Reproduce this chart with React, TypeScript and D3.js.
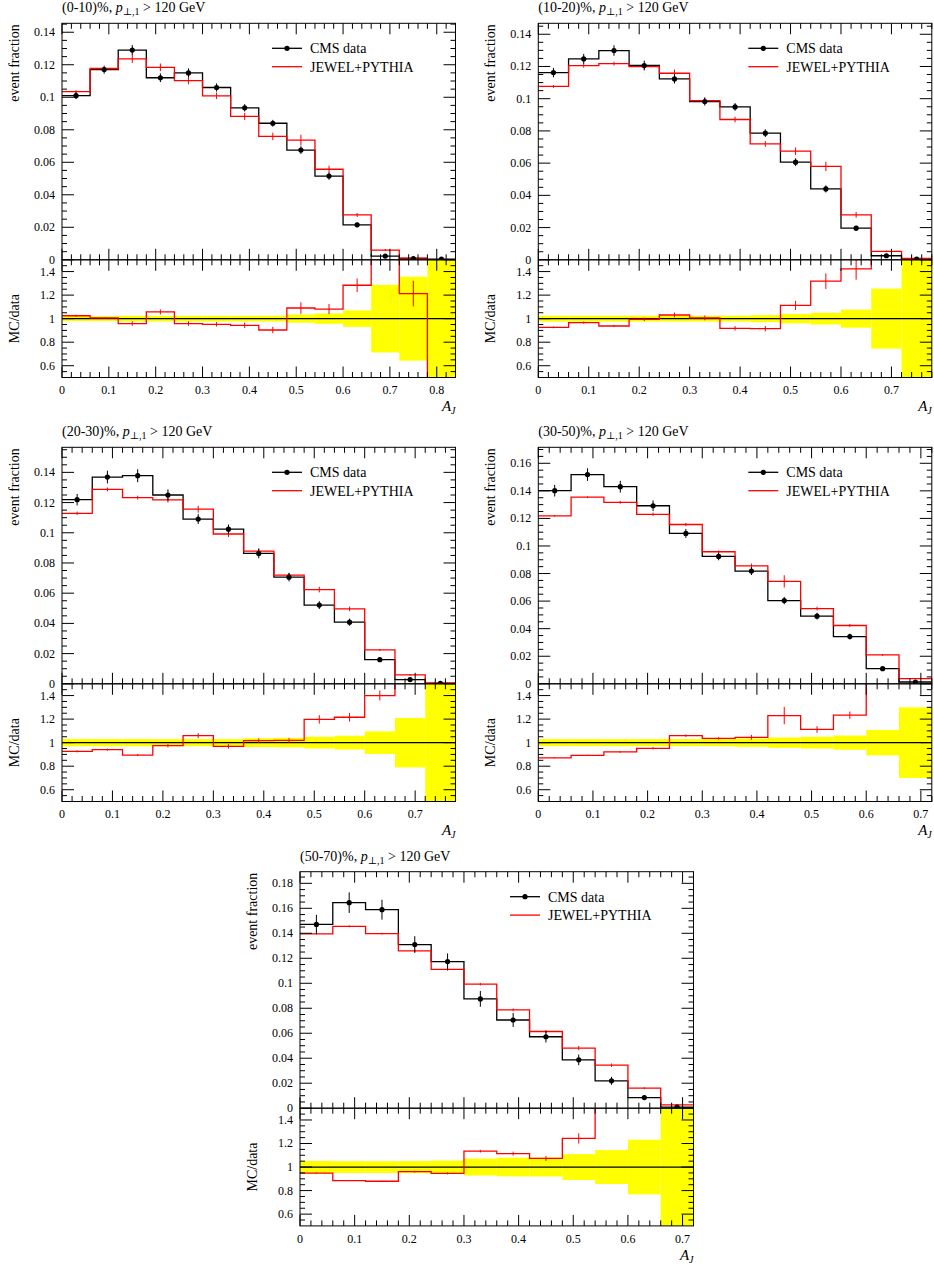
import React from 'react';
import * as d3 from 'd3';

// ---------- data (A_J distributions, bin width 0.06) ----------
const binWidth = 0.06;
const centralities = ['(0-10)%', '(10-20)%', '(20-30)%', '(30-50)%', '(50-70)%'];
const xMaxes = [0.84, 0.78, 0.78, 0.72, 0.72];
const yMaxes = [0.1455, 0.1468, 0.1566, 0.1716, 0.1893];

const cms0010 = [0.101, 0.117, 0.129, 0.112, 0.115, 0.106, 0.0935, 0.084, 0.0675, 0.0515, 0.0215, 0.0023, 0.0008, 0.0004];
const cmsErr0010 = [0.021, 0.021, 0.024, 0.024, 0.024, 0.024, 0.024, 0.025, 0.035, 0.044, 0.07, 0.287, 0.357, 1.0];
const jewel0010 = [0.1035, 0.1177, 0.1236, 0.1184, 0.1102, 0.1009, 0.0882, 0.0759, 0.0736, 0.0557, 0.0276, 0.006, 0.00097, 0];
const jewelErr0010 = [0.008, 0.008, 0.02, 0.02, 0.02, 0.02, 0.025, 0.03, 0.045, 0.04, 0.045, 0.1, 0.09, 0];

const cms1020 = [0.1162, 0.1247, 0.1299, 0.1206, 0.1123, 0.0982, 0.0949, 0.0786, 0.0606, 0.044, 0.0196, 0.0025, 0.0005];
const cmsErr1020 = [0.025, 0.025, 0.025, 0.025, 0.025, 0.025, 0.025, 0.03, 0.04, 0.05, 0.077, 0.255, 1.0];
const jewel1020 = [0.1076, 0.1205, 0.1218, 0.1199, 0.1158, 0.0988, 0.0871, 0.0719, 0.0674, 0.058, 0.0279, 0.0052, 0.0009];
const jewelErr1020 = [0.008, 0.01, 0.01, 0.015, 0.02, 0.02, 0.02, 0.025, 0.035, 0.05, 0.065, 0.1, 0.1];

const cms2030 = [0.1219, 0.1369, 0.1378, 0.125, 0.1091, 0.1024, 0.0863, 0.0706, 0.0521, 0.0408, 0.016, 0.0028, 0.0003];
const cmsErr2030 = [0.031, 0.031, 0.031, 0.03, 0.03, 0.03, 0.037, 0.04, 0.05, 0.058, 0.096, 0.21, 1.0];
const jewel2030 = [0.1129, 0.1287, 0.1233, 0.1218, 0.1156, 0.0992, 0.0878, 0.072, 0.0624, 0.0496, 0.0224, 0.0059, 0.0006];
const jewelErr2030 = [0.01, 0.01, 0.01, 0.015, 0.02, 0.02, 0.02, 0.02, 0.03, 0.03, 0.03, 0.1, 0.1];

const cms3050 = [0.1401, 0.1518, 0.143, 0.1292, 0.1091, 0.0924, 0.0818, 0.0604, 0.0491, 0.0343, 0.011, 0.0013];
const cmsErr3050 = [0.03, 0.03, 0.03, 0.03, 0.03, 0.03, 0.035, 0.044, 0.05, 0.06, 0.108, 0.3];
const jewel3050 = [0.1219, 0.1354, 0.1317, 0.123, 0.1156, 0.0958, 0.0855, 0.0743, 0.0546, 0.0423, 0.021, 0.0038];
const jewelErr3050 = [0.005, 0.005, 0.008, 0.01, 0.01, 0.01, 0.02, 0.06, 0.025, 0.025, 0.03, 0.08];

const cms5070 = [0.1471, 0.1645, 0.1589, 0.131, 0.1174, 0.0875, 0.0706, 0.0572, 0.0387, 0.0219, 0.0085, 0.0008];
const cmsErr5070 = [0.052, 0.05, 0.05, 0.051, 0.055, 0.072, 0.079, 0.08, 0.11, 0.144, 0.232, 1.0];
const jewel5070 = [0.1396, 0.1456, 0.1397, 0.1259, 0.1111, 0.0993, 0.0787, 0.0614, 0.0481, 0.0344, 0.016, 0.0027];
const jewelErr5070 = [0.005, 0.005, 0.005, 0.008, 0.01, 0.01, 0.015, 0.02, 0.035, 0.04, 0.05, 0.1];

const cmsAll = [cms0010, cms1020, cms2030, cms3050, cms5070];
const cmsErrAll = [cmsErr0010, cmsErr1020, cmsErr2030, cmsErr3050, cmsErr5070];
const jewelAll = [jewel0010, jewel1020, jewel2030, jewel3050, jewel5070];
const jewelErrAll = [jewelErr0010, jewelErr1020, jewelErr2030, jewelErr3050, jewelErr5070];

// ---------- layout ----------
const W = 393.5;
const HM = 236.5;
const HR = 117.7;
const origins = [
  [62, 23.3],
  [538.3, 23.3],
  [62, 447.3],
  [538.3, 447.3],
  [300, 871.7],
];
const FONT = '"Liberation Serif", "DejaVu Serif", serif';
const RED = '#ff0000';
const YELLOW = '#ffff00';

const fmt = (v: number) => String(+v.toFixed(3));

function stepPoints(vals: number[], x: any, y: any) {
  const pts: [number, number][] = [];
  vals.forEach((v, i) => {
    pts.push([x(i * binWidth), y(v)]);
    pts.push([x((i + 1) * binWidth), y(v)]);
  });
  return pts;
}

function Panel({ idx }: { idx: number }) {
  const [ox, oy] = origins[idx];
  const xMax = xMaxes[idx];
  const yMax = yMaxes[idx];
  const data = cmsAll[idx];
  const dErr = cmsErrAll[idx];
  const mc = jewelAll[idx];
  const mErr = jewelErrAll[idx];
  const ratio = mc.map((m, i) => m / data[i]);

  const x = d3.scaleLinear().domain([0, xMax]).range([0, W]);
  const y = d3.scaleLinear().domain([0, yMax]).range([HM, 0]);
  const r = d3.scaleLinear().domain([0.5, 1.5]).range([HM + HR, HM]);
  const line = d3.line();

  const clipM = `clipM${idx}`;
  const clipR = `clipR${idx}`;

  // ticks
  const nx = Math.round(xMax / 0.02);
  const xTicks = d3.range(0, nx + 1).map((i) => ({ v: i * 0.02, major: i % 5 === 0 }));
  const ny = Math.floor(yMax / 0.005 + 1e-6);
  const yTicks = d3.range(0, ny + 1).map((i) => ({ v: i * 0.005, major: i % 4 === 0 }));
  const rTicks = d3.range(11, 30).map((i) => ({ v: i * 0.05, major: i % 4 === 0 }));

  const XM = 11, Xm = 5.5, YM = 12, Ym = 5;
  const tickLines: JSX.Element[] = [];
  xTicks.forEach((t, i) => {
    const px = x(t.v);
    const L = t.major ? XM : Xm;
    tickLines.push(<line key={`xt${i}`} x1={px} x2={px} y1={0} y2={L} />);
    tickLines.push(<line key={`xmb${i}`} x1={px} x2={px} y1={HM} y2={HM - L} />);
    tickLines.push(<line key={`xrt${i}`} x1={px} x2={px} y1={HM} y2={HM + L} />);
    tickLines.push(<line key={`xrb${i}`} x1={px} x2={px} y1={HM + HR} y2={HM + HR - L} />);
  });
  yTicks.forEach((t, i) => {
    const py = y(t.v);
    if (py < 0.5) return;
    const L = t.major ? YM : Ym;
    tickLines.push(<line key={`yl${i}`} x1={0} x2={L} y1={py} y2={py} />);
    tickLines.push(<line key={`yr${i}`} x1={W} x2={W - L} y1={py} y2={py} />);
  });
  rTicks.forEach((t, i) => {
    const py = r(t.v);
    const L = t.major ? YM : Ym;
    tickLines.push(<line key={`rl${i}`} x1={0} x2={L} y1={py} y2={py} />);
    tickLines.push(<line key={`rr${i}`} x1={W} x2={W - L} y1={py} y2={py} />);
  });

  return (
    <g transform={`translate(${ox},${oy})`} fontFamily={FONT}>
      <defs>
        <clipPath id={clipM}>
          <rect x={0} y={0} width={W} height={HM} />
        </clipPath>
        <clipPath id={clipR}>
          <rect x={0} y={HM} width={W} height={HR} />
        </clipPath>
      </defs>

      {/* title */}
      <text x={0} y={-11} fontSize={14}>
        {centralities[idx] + ', '}
        <tspan fontStyle="italic">p</tspan>
        <tspan fontSize={10} dy={3}>⊥,1</tspan>
        <tspan dy={-3}>{' > 120 GeV'}</tspan>
      </text>

      {/* main panel */}
      <g clipPath={`url(#${clipM})`}>
        <path d={line(stepPoints(data, x, y)) || ''} fill="none" stroke="#000" strokeWidth={1.3} />
        <path d={line(stepPoints(mc, x, y)) || ''} fill="none" stroke={RED} strokeWidth={1.3} />
        {mc.map((m, i) => (
          <line key={`me${i}`} x1={x((i + 0.5) * binWidth)} x2={x((i + 0.5) * binWidth)}
            y1={y(m * (1 - mErr[i]))} y2={y(m * (1 + mErr[i]))} stroke={RED} strokeWidth={1} />
        ))}
        {data.map((d, i) => (
          <g key={`d${i}`}>
            <line x1={x((i + 0.5) * binWidth)} x2={x((i + 0.5) * binWidth)}
              y1={y(d * (1 - dErr[i]))} y2={y(d * (1 + dErr[i]))} stroke="#000" strokeWidth={1} />
            <circle cx={x((i + 0.5) * binWidth)} cy={y(d)} r={2.6} fill="#000" />
          </g>
        ))}
      </g>

      {/* ratio panel */}
      <g clipPath={`url(#${clipR})`}>
        {dErr.map((e, i) => (
          <rect key={`b${i}`} x={x(i * binWidth)} width={x((i + 1) * binWidth) - x(i * binWidth)}
            y={r(1 + e)} height={r(1 - e) - r(1 + e)} fill={YELLOW} />
        ))}
        <line x1={0} x2={W} y1={r(1)} y2={r(1)} stroke="#000" strokeWidth={1.2} />
        <path d={line(stepPoints(ratio, x, r)) || ''} fill="none" stroke={RED} strokeWidth={1.3} />
        {ratio.map((q, i) => (
          <line key={`re${i}`} x1={x((i + 0.5) * binWidth)} x2={x((i + 0.5) * binWidth)}
            y1={r(q * (1 - mErr[i]))} y2={r(q * (1 + mErr[i]))} stroke={RED} strokeWidth={1} />
        ))}
      </g>

      {/* frames and ticks */}
      <g stroke="#000" strokeWidth={1} fill="none">
        <rect x={0} y={0} width={W} height={HM} />
        <rect x={0} y={HM} width={W} height={HR} />
        {tickLines}
      </g>

      {/* tick labels */}
      <g fontSize={12} fill="#000">
        {yTicks.filter((t) => t.major).map((t, i) => (
          <text key={`yl${i}`} x={-7} y={y(t.v)} dy="0.33em" textAnchor="end">{fmt(t.v)}</text>
        ))}
        {rTicks.filter((t) => t.major).map((t, i) => (
          <text key={`rl${i}`} x={-7} y={r(t.v)} dy="0.33em" textAnchor="end">{fmt(t.v)}</text>
        ))}
        {xTicks.filter((t) => t.major).map((t, i) => (
          <text key={`xl${i}`} x={x(t.v)} y={HM + HR + 17} textAnchor="middle">{fmt(t.v)}</text>
        ))}
      </g>

      {/* axis labels */}
      <text transform={`translate(-43,1) rotate(-90)`} textAnchor="end" fontSize={14}>event fraction</text>
      <text transform={`translate(-43,${HM + HR / 2}) rotate(-90)`} textAnchor="middle" fontSize={14}>MC/data</text>
      <text x={W} y={HM + HR + 34} textAnchor="end" fontSize={15} fontStyle="italic">
        A<tspan fontSize={10} dy={3}>J</tspan>
      </text>

      {/* legend */}
      <g>
        <line x1={210} x2={240} y1={25} y2={25} stroke="#000" strokeWidth={1.3} />
        <circle cx={225} cy={25} r={2.6} fill="#000" />
        <text x={248} y={25} dy="0.35em" fontSize={14}>CMS data</text>
        <line x1={210} x2={240} y1={43.4} y2={43.4} stroke={RED} strokeWidth={1.3} />
        <text x={248} y={43.4} dy="0.35em" fontSize={14}>JEWEL+PYTHIA</text>
      </g>
    </g>
  );
}

export default function App() {
  return (
    <svg width={934} height={1267} style={{ position: 'absolute', left: 0, top: 0, background: '#fff' }}>
      {centralities.map((_, i) => (
        <Panel key={i} idx={i} />
      ))}
    </svg>
  );
}
